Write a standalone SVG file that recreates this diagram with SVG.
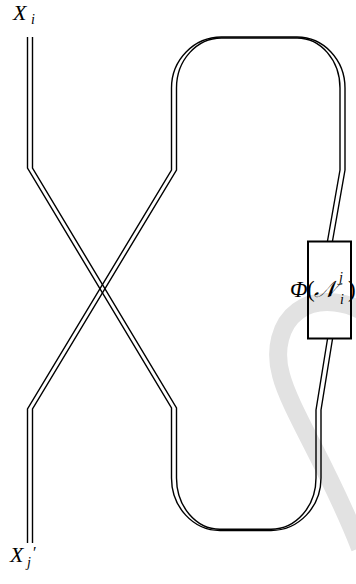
<svg xmlns="http://www.w3.org/2000/svg" width="356" height="584" viewBox="0 0 356 584">
<style>
.ln{fill:none;stroke:#000;stroke-width:1.4;stroke-linejoin:miter}
.box{fill:none;stroke:#000;stroke-width:2}
.m{font-family:"Liberation Serif","DejaVu Serif",serif;font-style:italic;fill:#000}
.r{font-family:"Liberation Serif","DejaVu Serif",serif;fill:#000}
.wm{fill:none;stroke:#e2e2e2;stroke-width:18}
</style>
<rect width="356" height="584" fill="#fff"/>
<path class="wm" d="M372 318 C352 301 318 296 298 311 C280 324 274 350 281 375 C290 410 330 470 360 548"/>
<g id="connectors">
<g id="strand-a">
<path class="ln" d="M27.5 37 V168 L171.5 408 V478 A48.5 52.5 0 0 0 220 530.5 H271 A50 52.5 0 0 0 321 478 V410 L332.5 339"/>
<path class="ln" d="M32.5 37 V168 L176.5 408 V478 A43.5 51.3 0 0 0 220 529.3 H271 A45 51.3 0 0 0 316 478 V410 L327.5 339"/>
</g>
<g id="strand-b">
<path class="ln" d="M27.5 543 V409 L171.5 170 V88 A50 51 0 0 1 221.5 37 H297 A48 51 0 0 1 345 88 V170 L332.5 241"/>
<path class="ln" d="M32.5 543 V409 L176.5 170 V88 A45 50 0 0 1 221.5 38 H297 A43 50 0 0 1 340 88 V170 L327.5 241"/>
</g>
</g>
<g id="node-xi">
<text class="m" x="13" y="20" font-size="22">X</text>
<text class="m" x="31" y="24" font-size="14">i</text>
</g>
<g id="node-xj">
<text class="m" x="10" y="562" font-size="22">X</text>
<text class="m" x="27" y="567" font-size="14">j</text>
<text class="r" x="33" y="558" font-size="16">′</text>
</g>
<g id="node-phi">
<rect class="box" x="308" y="241.5" width="43" height="97"/>
<text class="m" x="290" y="297" font-size="23">Φ</text>
<text class="r" x="307" y="297" font-size="23">(</text>
<text class="m" x="314" y="297" font-size="23">𝒩</text>
<text class="m" x="339" y="282" font-size="14">j</text>
<text class="m" x="340" y="304" font-size="14">i</text>
<text class="r" x="348" y="297" font-size="23">)</text>
</g>
</svg>
